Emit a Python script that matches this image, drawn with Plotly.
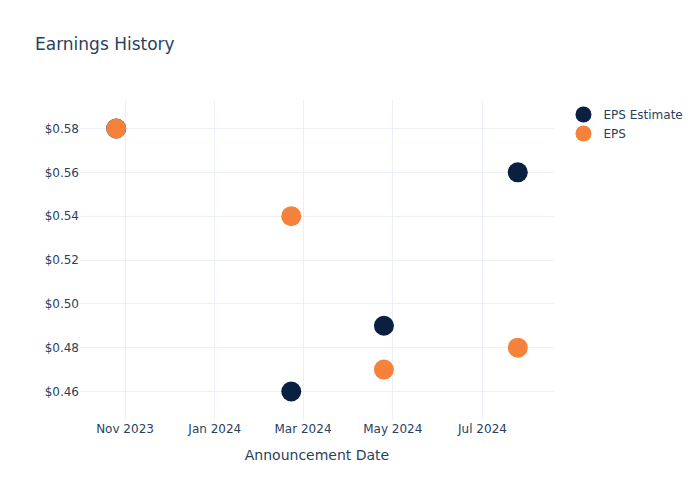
import plotly.graph_objects as go

dates = ["2023-10-26", "2024-02-22", "2024-04-25", "2024-07-25"]
eps_estimate = [0.58, 0.46, 0.49, 0.56]
eps_actual = [0.58, 0.54, 0.47, 0.48]

fig = go.Figure()
fig.add_trace(go.Scatter(x=dates, y=eps_estimate, mode="markers", name="EPS Estimate",
                         marker=dict(color="#0b1f41", size=20)))
fig.add_trace(go.Scatter(x=dates, y=eps_actual, mode="markers", name="EPS",
                         marker=dict(color="#f5813a", size=20)))

fig.update_layout(
    template="plotly_white",
    width=700, height=500,
    font=dict(family="DejaVu Sans"),
    title=dict(text="Earnings History"),
    xaxis=dict(title=dict(text="Announcement Date")),
    yaxis=dict(tickprefix="$", tickformat=".2f"),
)
fig.write_html("out.html")
